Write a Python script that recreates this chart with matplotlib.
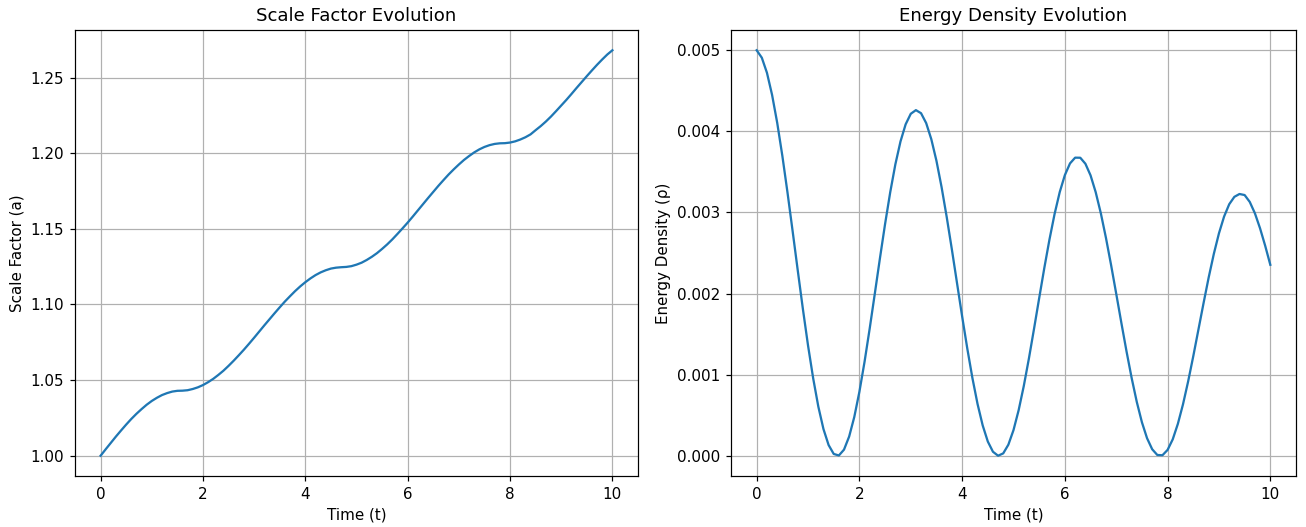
import numpy as np
import matplotlib.pyplot as plt

# time samples (t)
time = [0.0, 0.1, 0.2, 0.3, 0.4, 0.5, 0.6, 0.7, 0.8, 0.9,
        1.0, 1.1, 1.2, 1.3, 1.4, 1.5, 1.6, 1.7, 1.8, 1.9,
        2.0, 2.1, 2.2, 2.3, 2.4, 2.5, 2.6, 2.7, 2.8, 2.9,
        3.0, 3.1, 3.2, 3.3, 3.4, 3.5, 3.6, 3.7, 3.8, 3.9,
        4.0, 4.1, 4.2, 4.3, 4.4, 4.5, 4.6, 4.7, 4.8, 4.9,
        5.0, 5.1, 5.2, 5.3, 5.4, 5.5, 5.6, 5.7, 5.8, 5.9,
        6.0, 6.1, 6.2, 6.3, 6.4, 6.5, 6.6, 6.7, 6.8, 6.9,
        7.0, 7.1, 7.2, 7.3, 7.4, 7.5, 7.6, 7.7, 7.8, 7.9,
        8.0, 8.1, 8.2, 8.3, 8.4, 8.5, 8.6, 8.7, 8.8, 8.9,
        9.0, 9.1, 9.2, 9.3, 9.4, 9.5, 9.6, 9.7, 9.8, 9.9,
        10.0]

# scale factor a(t)
scale_factor = [1.0000, 1.0043, 1.0085, 1.0127, 1.0167, 1.0206, 1.0243, 1.0277, 1.0308, 1.0337,
                1.0362, 1.0383, 1.0401, 1.0414, 1.0424, 1.0429, 1.0430, 1.0433, 1.0441, 1.0452,
                1.0467, 1.0486, 1.0508, 1.0534, 1.0562, 1.0594, 1.0628, 1.0664, 1.0701, 1.0740,
                1.0780, 1.0821, 1.0862, 1.0902, 1.0942, 1.0981, 1.1019, 1.1054, 1.1088, 1.1119,
                1.1147, 1.1172, 1.1194, 1.1212, 1.1226, 1.1237, 1.1243, 1.1246, 1.1248, 1.1253,
                1.1263, 1.1276, 1.1294, 1.1315, 1.1339, 1.1367, 1.1397, 1.1430, 1.1466, 1.1503,
                1.1541, 1.1581, 1.1622, 1.1663, 1.1704, 1.1744, 1.1784, 1.1822, 1.1859, 1.1893,
                1.1925, 1.1955, 1.1981, 1.2005, 1.2025, 1.2041, 1.2053, 1.2061, 1.2065, 1.2066,
                1.2070, 1.2078, 1.2090, 1.2105, 1.2124, 1.2152, 1.2179, 1.2209, 1.2242, 1.2278,
                1.2315, 1.2352, 1.2391, 1.2431, 1.2470, 1.2509, 1.2547, 1.2584, 1.2619, 1.2652,
                1.2680]

# energy density rho(t)
energy_density = [0.005000, 0.004908, 0.004722, 0.004449, 0.004104, 0.003697, 0.003246, 0.002769, 0.002284, 0.001808,
                  0.001359, 0.000955, 0.000607, 0.000330, 0.000133, 0.000023, 0.000004, 0.000076, 0.000237, 0.000478,
                  0.000790, 0.001159, 0.001568, 0.002000, 0.002437, 0.002859, 0.003250, 0.003594, 0.003876, 0.004087,
                  0.004217, 0.004262, 0.004224, 0.004102, 0.003903, 0.003637, 0.003312, 0.002943, 0.002545, 0.002131,
                  0.001719, 0.001324, 0.000959, 0.000639, 0.000375, 0.000176, 0.000050, 0.000001, 0.000030, 0.000137,
                  0.000317, 0.000562, 0.000860, 0.001200, 0.001567, 0.001944, 0.002316, 0.002666, 0.002982, 0.003251,
                  0.003461, 0.003605, 0.003676, 0.003675, 0.003601, 0.003458, 0.003251, 0.002991, 0.002687, 0.002352,
                  0.001998, 0.001639, 0.001289, 0.000960, 0.000665, 0.000414, 0.000217, 0.000081, 0.000010, 0.000007,
                  0.000073, 0.000203, 0.000394, 0.000635, 0.000917, 0.001228, 0.001555, 0.001882, 0.002199, 0.002489,
                  0.002743, 0.002950, 0.003102, 0.003193, 0.003228, 0.003215, 0.003130, 0.002990, 0.002805, 0.002590,
                  0.002355]

dpi = 109
fig = plt.figure(figsize=(1306 / dpi, 527 / dpi), dpi=dpi)
ax1 = fig.add_axes([75 / 1306, 51 / 527, 563 / 1306, 446 / 527])
ax2 = fig.add_axes([731 / 1306, 51 / 527, 565 / 1306, 446 / 527])

ax1.plot(time, scale_factor)
ax1.set_title("Scale Factor Evolution")
ax1.set_xlabel("Time (t)")
ax1.set_ylabel("Scale Factor (a)")
ax1.grid(True)

ax2.plot(time, energy_density)
ax2.set_title("Energy Density Evolution")
ax2.set_xlabel("Time (t)")
ax2.set_ylabel("Energy Density (ρ)")
ax2.grid(True)

fig.savefig("out.png", dpi=dpi)
